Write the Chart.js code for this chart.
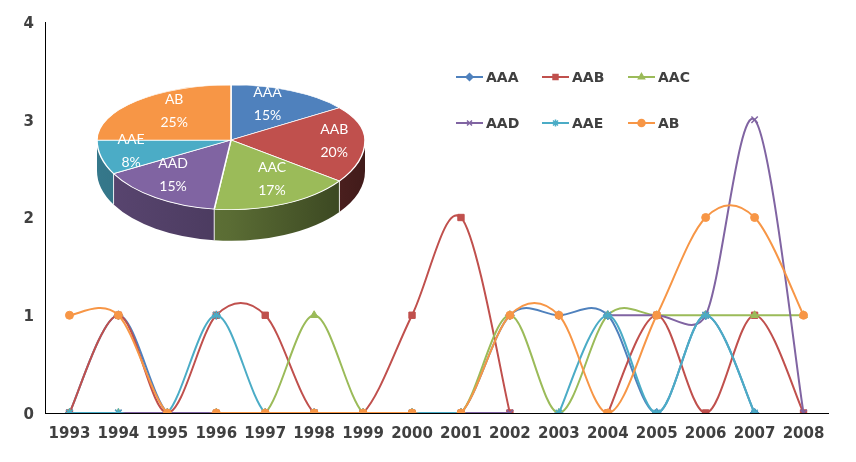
<!DOCTYPE html>
<html><head><meta charset="utf-8">
<script src="https://cdn.jsdelivr.net/npm/chart.js@4/dist/chart.umd.min.js"></script>
<style>
html,body{margin:0;padding:0;background:#fff;}
#wrap{position:relative;width:856px;height:462px;overflow:hidden;}
#line{position:absolute;left:0;top:0;}
#pie{position:absolute;left:95px;top:4px;}
</style></head><body>
<div id="wrap"><canvas id="line" width="856" height="462"></canvas><canvas id="pie" width="272" height="272"></canvas></div>
<script>
// ---- data ----
const years = ['1993','1994','1995','1996','1997','1998','1999','2000','2001','2002','2003','2004','2005','2006','2007','2008'];
const seriesNames = ['AAA','AAB','AAC','AAD','AAE','AB'];
const AAA = [0,1,0,0,0,0,0,0,0,1,1,1,0,1,0,null];
const AAB = [0,1,0,1,1,0,0,1,2,0,null,0,1,0,1,0];
const AAC = [0,0,0,0,0,1,0,0,0,1,0,1,1,1,1,1];
const AAD = [0,0,0,0,0,0,0,0,0,0,null,1,1,1,3,0];
const AAE = [0,0,0,1,0,0,0,0,0,null,0,1,0,1,0,null];
const AB  = [1,1,0,0,0,0,0,0,0,1,1,0,1,2,2,1];
const yTicks = [0,1,2,3,4];
const pieLabels = ['AAA','AAB','AAC','AAD','AAE','AB'];
const pieValues = [15,20,17,15,8,25];

const colors = ['#4F81BD','#C0504D','#9BBB59','#8064A2','#4BACC6','#F79646'];
const markers = ['rectRot','rect','triangle','crossRot','star','circle'];
const markerRadius = [4.5,4.5,4.5,4.5,4.5,4];
const seriesData = [AAA,AAB,AAC,AAD,AAE,AB];
const axisFont = {family:'DejaVu Sans', weight:'bold', size:15};
const textColor = '#404040';

function drawMarker(ctx, style, r, x, y, color){
  ctx.save();
  ctx.fillStyle = color; ctx.strokeStyle = color; ctx.lineWidth = 1.5;
  if (Chart.helpers && Chart.helpers.drawPoint) {
    Chart.helpers.drawPoint(ctx, {pointStyle: style, radius: r, borderWidth: 1.5, rotation: 0}, x, y);
  } else {
    ctx.beginPath(); ctx.arc(x,y,r,0,Math.PI*2); ctx.fill();
  }
  ctx.restore();
}

const legendPlugin = {
  id: 'innerLegend',
  afterDraw(chart){
    const ctx = chart.ctx;
    chart.data.datasets.forEach((ds,i)=>{
      const col = i % 3, row = Math.floor(i/3);
      const x = 456 + col*86, y = 77 + row*46;
      ctx.save();
      ctx.strokeStyle = ds.borderColor; ctx.lineWidth = 2;
      ctx.beginPath(); ctx.moveTo(x, y); ctx.lineTo(x+27, y); ctx.stroke();
      drawMarker(ctx, ds.pointStyle, 3.5, x+13.5, y, ds.borderColor);
      ctx.fillStyle = textColor;
      ctx.font = 'bold 14px "DejaVu Sans"';
      ctx.textBaseline = 'middle'; ctx.textAlign = 'left';
      ctx.fillText(ds.label, x+30, y+1);
      ctx.restore();
    });
  }
};

// Excel-like smoothing: Bezier control points from neighbouring points (pixel space)
const excelSmooth = {
  id: 'excelSmooth',
  beforeDatasetsDraw(chart){
    chart.getSortedVisibleDatasetMetas().forEach(meta=>{
      const pts = meta.data, n = pts.length;
      const ok = i => i >= 0 && i < n && !pts[i].skip;
      for (let i = 0; i < n; i++){
        const p = pts[i]; if (p.skip) continue;
        if (ok(i+1)) {
          const p2 = pts[i+1], p0 = ok(i-1) ? pts[i-1] : p;
          const d12 = Math.hypot(p2.x-p.x, p2.y-p.y), d02 = Math.hypot(p2.x-p0.x, p2.y-p0.y);
          const f = d02 > 0 ? Math.min(1/6, d12/(2*d02)) : 0;
          p.cp2x = p.x + f*(p2.x-p0.x); p.cp2y = p.y + f*(p2.y-p0.y);
        } else { p.cp2x = p.x; p.cp2y = p.y; }
        if (ok(i-1)) {
          const p1 = pts[i-1], p3 = ok(i+1) ? pts[i+1] : p;
          const d12 = Math.hypot(p.x-p1.x, p.y-p1.y), d13 = Math.hypot(p3.x-p1.x, p3.y-p1.y);
          const g = d13 > 0 ? Math.min(1/6, d12/(2*d13)) : 0;
          p.cp1x = p.x - g*(p3.x-p1.x); p.cp1y = p.y - g*(p3.y-p1.y);
        } else { p.cp1x = p.x; p.cp1y = p.y; }
      }
      if (meta.dataset) meta.dataset._pointsUpdated = true;
    });
  }
};

new Chart(document.getElementById('line'), {
  type: 'line',
  data: {
    labels: years,
    datasets: seriesNames.map((name,i)=>({
      label: name,
      data: seriesData[i],
      borderColor: colors[i],
      backgroundColor: colors[i],
      pointBackgroundColor: colors[i],
      pointBorderColor: colors[i],
      pointStyle: markers[i],
      pointRadius: markerRadius[i],
      pointBorderWidth: (markers[i]==='crossRot'||markers[i]==='star') ? 1.5 : 1,
      borderWidth: 2,
      tension: 0.4,
      fill: false,
      spanGaps: false,
      order: seriesNames.length - i
    }))
  },
  options: {
    responsive: false,
    animation: false,
    devicePixelRatio: 1,
    layout: {padding: {top: 22, right: 28, left: 0, bottom: 0}},
    plugins: {legend: {display: false}, tooltip: {enabled: false}},
    scales: {
      x: {
        offset: true,
        grid: {display: false, drawTicks: false},
        border: {display: true, color: '#000', width: 1},
        ticks: {color: textColor, font: axisFont, padding: 12, maxRotation: 0, autoSkip: false},
        afterFit(s){ s.height = 49; }
      },
      y: {
        min: yTicks[0], max: yTicks[yTicks.length-1],
        grid: {display: false, drawTicks: false},
        border: {display: true, color: '#000', width: 1},
        ticks: {color: textColor, font: axisFont, padding: 11, stepSize: 1, labelOffset: 2,
          callback: (v)=> yTicks.includes(v) ? String(v) : ''},
        afterFit(s){ s.width = 45; }
      }
    }
  },
  plugins: [excelSmooth, legendPlugin]
});

// ---- 3D-looking pie (perspective: back half flatter than front half) ----
const K1 = 0.41, K2 = 0.52, D = 31;
const FX_BACK = 0.6, FX_FRONT = 0.77, FY_BACK = 0.75, FY_FRONT = 0.6;
function shade(hex, f){
  const n = parseInt(hex.slice(1),16);
  const r = Math.round(((n>>16)&255)*f), g = Math.round(((n>>8)&255)*f), b = Math.round((n&255)*f);
  return `rgb(${r},${g},${b})`;
}
const pie3d = {
  id: 'pie3d',
  beforeDatasetsDraw(chart){
    const ctx = chart.ctx;
    const meta = chart.getDatasetMeta(0);
    const a0 = meta.data[0];
    const cx = a0.x, cy = a0.y, R = a0.outerRadius;
    const W = chart.width, H = chart.height;
    meta.data.forEach((arc,i)=>{
      const s = Math.max(arc.startAngle, 0), e = Math.min(arc.endAngle, Math.PI);
      if (e <= s) return;
      const col = chart.data.datasets[0].backgroundColor[i];
      const g = ctx.createLinearGradient(cx-R, 0, cx+R, 0);
      g.addColorStop(0, shade(col, 0.7));
      g.addColorStop(0.5, shade(col, 0.58));
      g.addColorStop(1, shade(col, 0.34));
      ctx.beginPath();
      ctx.ellipse(cx, cy, R, R*K2, 0, s, e);
      ctx.lineTo(cx + R*Math.cos(e), cy + R*K2*Math.sin(e) + D);
      ctx.ellipse(cx, cy + D, R, R*K2, 0, e, s, true);
      ctx.closePath();
      ctx.fillStyle = g; ctx.fill();
    });
    ctx.save();
    ctx.strokeStyle = 'rgba(255,255,255,0.85)'; ctx.lineWidth = 1;
    meta.data.forEach((arc)=>{
      const a = arc.startAngle;
      if (a > 0 && a < Math.PI) {
        const x = cx + R*Math.cos(a), y = cy + R*K2*Math.sin(a);
        ctx.beginPath(); ctx.moveTo(x, y); ctx.lineTo(x, y + D); ctx.stroke();
      }
    });
    ctx.restore();
    [[0, cy, K1], [cy, H - cy, K2]].forEach(([top, h, k])=>{
      ctx.save();
      ctx.beginPath(); ctx.rect(0, top, W, h); ctx.clip();
      ctx.translate(cx, cy); ctx.scale(1, k); ctx.translate(-cx, -cy);
      meta.data.forEach(a => a.draw(ctx));
      ctx.restore();
    });
    return false;
  },
  afterDraw(chart){
    const ctx = chart.ctx;
    const meta = chart.getDatasetMeta(0);
    const ds = chart.data.datasets[0];
    const total = ds.data.reduce((a,b)=>a+b,0);
    ctx.save();
    ctx.fillStyle = '#fff';
    ctx.font = '14px Lato';
    ctx.textAlign = 'center'; ctx.textBaseline = 'middle';
    meta.data.forEach((arc,i)=>{
      const mid = (arc.startAngle + arc.endAngle)/2;
      const sn = Math.sin(mid);
      const back = sn < 0;
      const x = arc.x + (back ? FX_BACK : FX_FRONT)*arc.outerRadius*Math.cos(mid);
      const y = arc.y + (back ? FY_BACK*K1 : FY_FRONT*K2)*arc.outerRadius*sn;
      ctx.fillText(chart.data.labels[i], x, y - 11);
      ctx.fillText(Math.round(ds.data[i]/total*100) + '%', x, y + 12);
    });
    ctx.restore();
  }
};

new Chart(document.getElementById('pie'), {
  type: 'pie',
  data: {
    labels: pieLabels,
    datasets: [{data: pieValues, backgroundColor: colors, borderColor: '#fff', borderWidth: 1.5, radius: 134}]
  },
  options: {
    responsive: false, animation: false, devicePixelRatio: 1,
    layout: {padding: 0},
    plugins: {legend: {display: false}, tooltip: {enabled: false}}
  },
  plugins: [pie3d]
});
</script>
</body></html>
